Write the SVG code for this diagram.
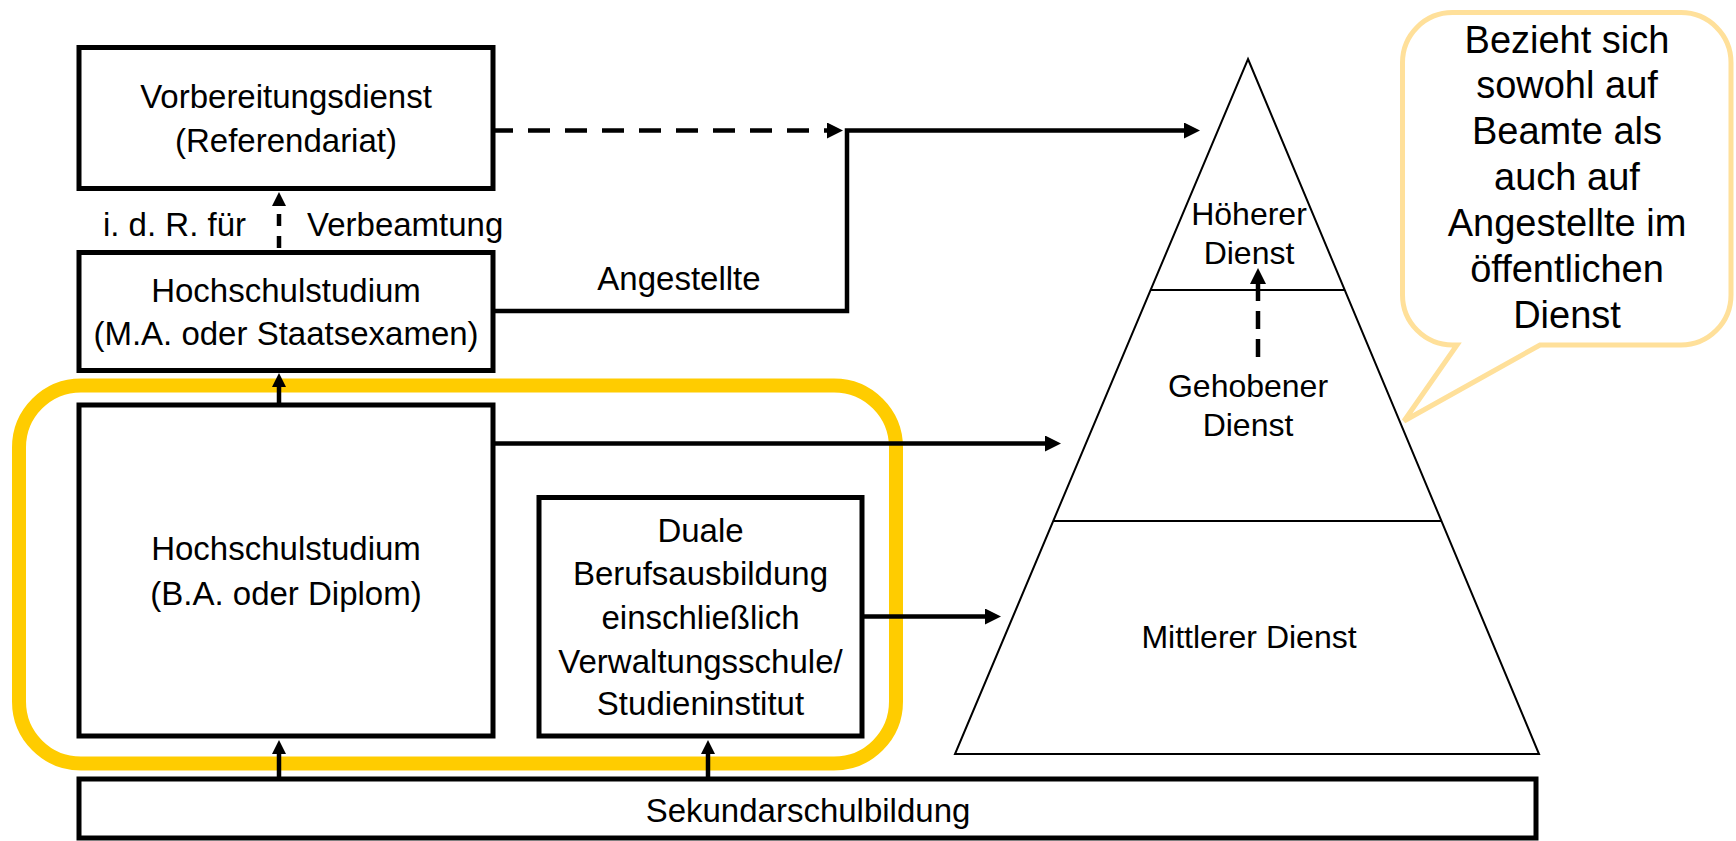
<svg xmlns="http://www.w3.org/2000/svg" width="1736" height="841" viewBox="0 0 1736 841">
<style>
.box{fill:#fff;stroke:#000;stroke-width:5}
.t{font-family:"Liberation Sans",Arial,sans-serif;font-size:33px;fill:#000;text-anchor:middle}
.tp{font-family:"Liberation Sans",Arial,sans-serif;font-size:32px;fill:#000;text-anchor:middle}
.tb{font-family:"Liberation Sans",Arial,sans-serif;font-size:38px;fill:#000;text-anchor:middle}
.con{fill:none;stroke:#000;stroke-width:4.5}
.pyr{fill:none;stroke:#000;stroke-width:2}
</style>
<defs>
<marker id="ah" viewBox="0 0 16 16" refX="6" refY="8" markerWidth="16" markerHeight="16" markerUnits="userSpaceOnUse" orient="auto"><path d="M0,0 L16,8 L0,16 z" fill="#000"/></marker>
<marker id="ahs" viewBox="0 0 14 14" refX="4" refY="7" markerWidth="14" markerHeight="14" markerUnits="userSpaceOnUse" orient="auto"><path d="M0,0 L14,7 L0,14 z" fill="#000"/></marker>
</defs>
<rect width="1736" height="841" fill="#fff"/>
<g id="highlight">
<rect x="19" y="385.5" width="877" height="378" rx="62" ry="62" fill="none" stroke="#FFCC00" stroke-width="14"/>
</g>
<g id="pyramid">
<path class="pyr" d="M1248,59 L1539,754 L955,754 Z"/>
<line class="pyr" x1="1150.6" y1="290" x2="1344.6" y2="290"/>
<line class="pyr" x1="1053.2" y1="521" x2="1441.5" y2="521"/>
<text class="tp" x="1249" y="225">Höherer</text>
<text class="tp" x="1249" y="264">Dienst</text>
<text class="tp" x="1248" y="397">Gehobener</text>
<text class="tp" x="1248" y="436">Dienst</text>
<text class="tp" x="1249" y="648">Mittlerer Dienst</text>
</g>
<g id="callout">
<path d="M1452.5,12.5 H1681 A50,50 0 0 1 1731,62.5 V295 A50,50 0 0 1 1681,345 H1540 L1404,421 L1457,345 H1452.5 A50,50 0 0 1 1402.5,295 V62.5 A50,50 0 0 1 1452.5,12.5 Z" fill="#fff" stroke="#FFE09A" stroke-width="5" stroke-linejoin="miter"/>
<text class="tb" x="1567" y="53">Bezieht sich</text>
<text class="tb" x="1567" y="98">sowohl auf</text>
<text class="tb" x="1567" y="144">Beamte als</text>
<text class="tb" x="1567" y="190">auch auf</text>
<text class="tb" x="1567" y="236">Angestellte im</text>
<text class="tb" x="1567" y="282">öffentlichen</text>
<text class="tb" x="1567" y="328">Dienst</text>
</g>
<g id="vorbereitungsdienst">
<rect class="box" x="79" y="47.5" width="414" height="141"/>
<text class="t" x="286" y="108">Vorbereitungsdienst</text>
<text class="t" x="286" y="152">(Referendariat)</text>
</g>
<g id="hochschulstudium-ma">
<rect class="box" x="79" y="252.5" width="414" height="118"/>
<text class="t" x="286" y="302">Hochschulstudium</text>
<text class="t" x="286" y="345">(M.A. oder Staatsexamen)</text>
</g>
<g id="hochschulstudium-ba">
<rect class="box" x="79" y="405" width="414" height="331"/>
<text class="t" x="286" y="560">Hochschulstudium</text>
<text class="t" x="286" y="605">(B.A. oder Diplom)</text>
</g>
<g id="duale-berufsausbildung">
<rect class="box" x="539" y="497.5" width="323" height="238.5"/>
<text class="t" x="700.5" y="542">Duale</text>
<text class="t" x="700.5" y="585">Berufsausbildung</text>
<text class="t" x="700.5" y="629">einschließlich</text>
<text class="t" x="700.5" y="673">Verwaltungsschule/</text>
<text class="t" x="700.5" y="715">Studieninstitut</text>
</g>
<g id="sekundarschulbildung">
<rect class="box" x="79" y="779" width="1457" height="59"/>
<text class="t" x="808" y="822">Sekundarschulbildung</text>
</g>
<g id="labels">
<text class="t" x="246" y="236" style="text-anchor:end">i. d. R. für</text>
<text class="t" x="307" y="236" style="text-anchor:start">Verbeamtung</text>
<text class="t" x="679" y="290">Angestellte</text>
</g>
<g id="connectors">
<path class="con" d="M495,130.5 H833" stroke-width="5" stroke-dasharray="22 15" stroke-dashoffset="4" marker-end="url(#ah)"/>
<path class="con" d="M495,311 H847 V130.5 H1190" marker-end="url(#ah)"/>
<path class="con" d="M279,248 V202" stroke-width="4" stroke-dasharray="12 10" marker-end="url(#ahs)"/>
<path class="con" d="M1258,357 V278" stroke-width="6" stroke-dasharray="18 10" marker-end="url(#ah)"/>
<path class="con" d="M279,403 V383" stroke-width="4" marker-end="url(#ahs)"/>
<path class="con" d="M495,443.5 H1051" marker-end="url(#ah)"/>
<path class="con" d="M864,616.5 H991" marker-end="url(#ah)"/>
<path class="con" d="M279,777 V750" stroke-width="4" marker-end="url(#ahs)"/>
<path class="con" d="M708,777 V750" stroke-width="4" marker-end="url(#ahs)"/>
</g>
</svg>
